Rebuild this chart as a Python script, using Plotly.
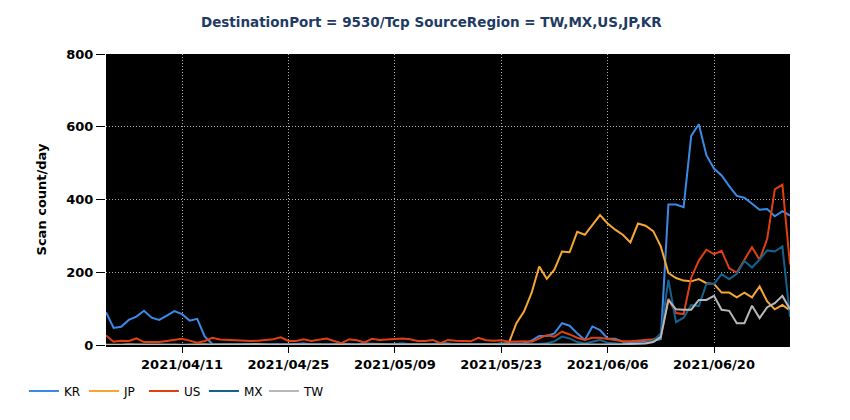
import pandas as pd
import plotly.graph_objects as go

# daily scan counts, 2021/04/01 .. 2021/06/30
dates = pd.date_range('2021-04-01', '2021-06-30', freq='D')

kr = [90, 47, 50, 69, 78, 94, 75, 69, 81, 93, 85, 67, 72, 23, 3,
      2, 1, 2, 3, 2, 1, 2, 3, 2, 2, 3, 4, 2, 1, 2, 3, 2, 1, 2, 4,
      3, 2, 2, 3, 4, 2, 1, 2, 3, 5, 4, 2, 3, 2, 2, 3, 2, 4, 3, 4,
      5, 12, 25, 25, 32, 60, 53, 32, 14, 51, 41, 18, 17, 9, 8, 8, 9, 12, 16,
      386, 386, 379, 575, 607, 522, 485, 466, 437, 410, 405, 388, 372, 374, 354, 368, 356]

jp = [1, 0, 1, 2, 1, 0, 1, 1, 2, 1, 0, 1, 1, 2, 1, 0, 1, 1, 0, 1,
      2, 1, 1, 0, 1, 2, 1, 1, 0, 1, 1, 2, 1, 0, 1, 1, 2, 1, 1, 0,
      1, 2, 1, 1, 0, 1, 1, 2, 1, 0, 1, 2, 2,
      5, 60, 92, 143, 216, 182, 207, 257, 255, 311, 303, 331, 357, 334, 317,
      303, 282, 334, 328, 313, 271, 198, 184, 177, 175, 181, 170, 168, 144, 144,
      131, 144, 131, 161, 120, 98, 110, 95]

us = [26, 9, 12, 11, 18, 8, 8, 8, 11, 13, 17, 12, 6, 11, 20, 15, 14, 11, 11, 11,
      12, 14, 16, 21, 11, 11, 16, 11, 14, 18, 11, 5, 16, 13, 7, 17, 14, 15, 17, 18,
      16, 11, 11, 14, 5, 14, 12, 10, 10, 20, 13, 12, 13,
      9, 10, 10, 9, 18, 27, 23, 37, 29, 20, 14, 20, 20, 16, 14, 10, 10, 12, 14, 16,
      23, 127, 88, 85, 185, 232, 262, 250, 259, 211, 199, 233, 269, 234, 292, 428, 441, 221]

mx = [1, 0, 1, 1, 0, 1, 2, 1, 0, 1, 1, 0, 1, 1, 2, 1, 0, 1, 1, 0,
      1, 1, 2, 1, 0, 1, 1, 0, 1, 2, 1, 1, 0, 1, 1, 0, 1, 2, 1, 1,
      0, 1, 1, 2, 1, 0, 1, 1, 0, 1, 2, 1, 1, 0, 1, 1, 2,
      3, 5, 10, 23, 18, 8, 4, 8, 14, 6, 4, 3, 3, 4, 6, 12, 32,
      179, 63, 75, 110, 107, 168, 168, 195, 181, 196, 231, 213, 235, 260, 257, 271, 77]

tw = [0, 0, 1, 0, 0, 1, 0, 0, 0, 1, 0, 0, 1, 0, 0, 0, 1, 0, 0, 0,
      1, 0, 0, 0, 1, 0, 0, 1, 0, 0, 0, 1, 0, 0, 0, 1, 0, 0, 1, 0,
      0, 0, 1, 0, 0, 0, 1, 0, 0, 1, 0, 0, 0, 1, 0, 0, 1, 0, 0, 1,
      0, 1, 0, 1, 1, 0, 1,
      2, 2, 3, 3, 4, 8, 22,
      124, 98, 97, 97, 124, 124, 135, 97, 94, 60, 60, 108, 74, 104, 115, 135, 98]

series = [
    ('KR', kr, '#3b8ae6'),
    ('JP', jp, '#f5a733'),
    ('US', us, '#e0400f'),
    ('MX', mx, '#14618e'),
    ('TW', tw, '#b8b8b8'),
]

font = 'DejaVu Sans'

fig = go.Figure()
for name, vals, color in series:
    fig.add_trace(go.Scatter(
        x=dates, y=vals, mode='lines', name=name,
        line=dict(color=color, width=2)
    ))

# the page body adds an 8px offset, so margins are pulled in by 8
fig.update_layout(
    width=850, height=420,
    margin=dict(l=98, r=68, t=46, b=83),
    paper_bgcolor='white',
    plot_bgcolor='black',
    font=dict(family=font, size=12, color='black'),
    title=dict(
        text='DestinationPort = 9530/Tcp SourceRegion = TW,MX,US,JP,KR',
        x=0.498, xanchor='center', y=0.967, yanchor='middle',
        font=dict(family=font, size=13.5, color='#1f3b63', weight='bold')
    ),
    showlegend=True,
    legend=dict(
        orientation='h', x=-0.12, xanchor='left', y=-0.158, yanchor='middle',
        font=dict(family=font, size=12, color='black'),
        itemwidth=30, entrywidth=15, entrywidthmode='pixels',
        bgcolor='rgba(0,0,0,0)'
    ),
    hovermode='x unified'
)

fig.update_xaxes(
    range=[dates[0], dates[-1]],
    tick0='2021-04-11', dtick=14 * 24 * 3600 * 1000,
    tickformat='%Y/%m/%d',
    tickfont=dict(family=font, size=13, color='black', weight='bold'),
    ticks='outside', ticklen=6, tickcolor='black', tickwidth=1,
    showline=True, linecolor='black', linewidth=2,
    showgrid=True, gridcolor='#b0b0b0', griddash='1px,2px', gridwidth=1,
    zeroline=False
)
fig.update_yaxes(
    range=[0, 800], dtick=200,
    tickfont=dict(family=font, size=13, color='black', weight='bold'),
    ticks='outside', ticklen=9, tickcolor='black', tickwidth=1,
    showline=False,
    showgrid=True, gridcolor='#b0b0b0', griddash='1px,2px', gridwidth=1,
    zeroline=False,
    title=dict(text='Scan count/day', standoff=16,
               font=dict(family=font, size=13, color='black', weight='bold'))
)

fig.write_html('out.html')
